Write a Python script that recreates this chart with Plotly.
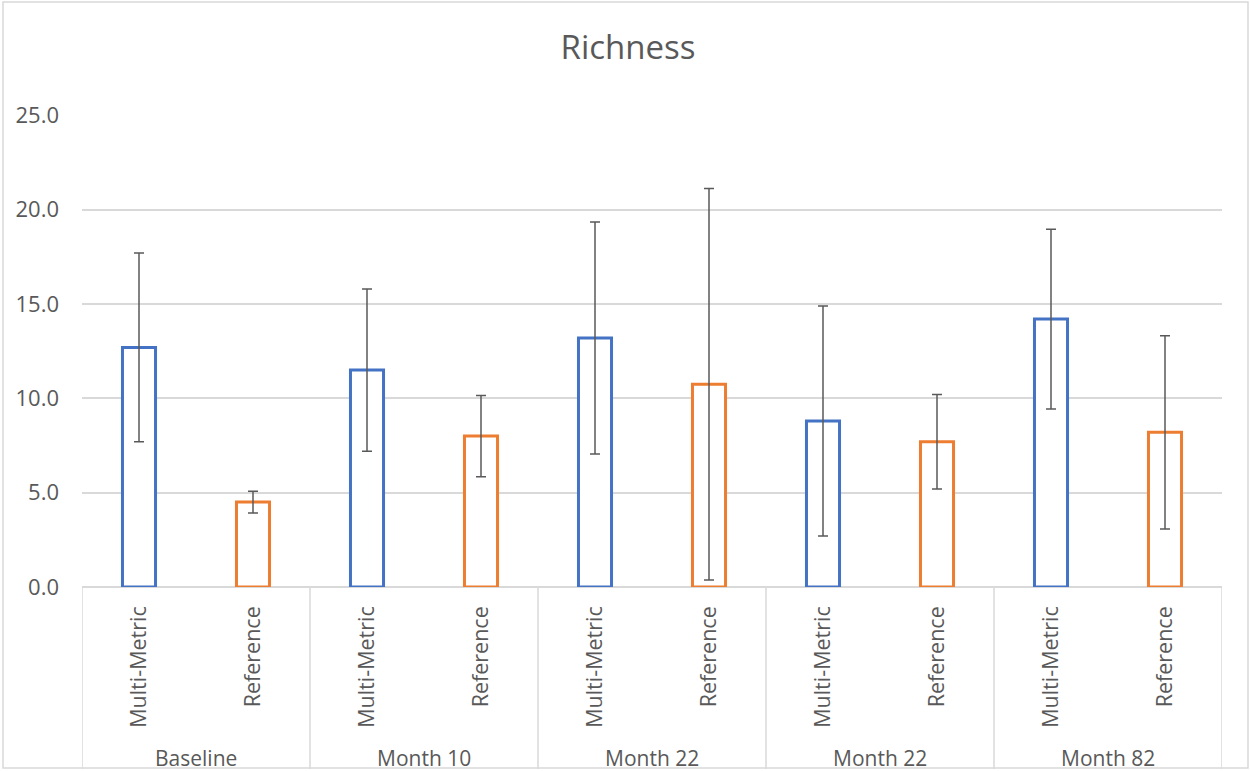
import plotly.graph_objects as go

groups = ["Baseline", "Month 10", "Month 22", "Month 22", "Month 82"]
series_names = ["Multi-Metric", "Reference"]
mm_vals = [12.7, 11.5, 13.2, 8.8, 14.2]
mm_err = [5.0, 4.3, 6.15, 6.1, 4.77]
ref_vals = [4.5, 8.0, 10.75, 7.7, 8.2]
ref_err = [0.58, 2.15, 10.38, 2.5, 5.12]
y_ticks = [0, 5, 10, 15, 20, 25]

BLUE = "#4472C4"
ORANGE = "#ED7D31"
GREY_TXT = "#595959"
GRID = "#D9D9D9"
FONT = "Open Sans"

n = len(groups)
x_mm = [2 * i for i in range(n)]
x_ref = [2 * i + 1 for i in range(n)]

fig = go.Figure()
fig.add_trace(go.Bar(
    x=x_mm, y=mm_vals, width=0.29, name=series_names[0],
    marker=dict(color="white", line=dict(color=BLUE, width=3)),
    error_y=dict(type="data", array=mm_err, visible=True, color=GREY_TXT, thickness=1.5, width=5),
))
fig.add_trace(go.Bar(
    x=x_ref, y=ref_vals, width=0.29, name=series_names[1],
    marker=dict(color="white", line=dict(color=ORANGE, width=3)),
    error_y=dict(type="data", array=ref_err, visible=True, color=GREY_TXT, thickness=1.5, width=5),
))

tickvals = []
ticktext = []
for i in range(n):
    tickvals += [x_mm[i], x_ref[i]]
    ticktext += series_names

L, R, T, B = 82, 28, 115, 184
W, H = 1250, 771
pw, ph = W - L - R, H - T - B

def py(pix):
    return (H - B - pix) / ph

shapes = []
for i in range(n + 1):
    xv = 2 * i - 0.5
    shapes.append(dict(type="line", xref="x", yref="paper", x0=xv, x1=xv, y0=0, y1=py(769),
                       line=dict(color=GRID, width=1.5)))
shapes.append(dict(type="rect", xref="paper", yref="paper",
                   x0=(3 - L) / pw, x1=(1248 - L) / pw, y0=py(768), y1=py(2),
                   line=dict(color=GRID, width=1.5), fillcolor="rgba(0,0,0,0)"))

annotations = []
for i, g in enumerate(groups):
    annotations.append(dict(text=g, x=2 * i + 0.5, xref="x", y=py(758), yref="paper",
                            xanchor="center", yanchor="middle", showarrow=False,
                            font=dict(family=FONT, size=21, color=GREY_TXT)))

fig.update_layout(
    width=W, height=H,
    margin=dict(l=L, r=R, t=T, b=B, autoexpand=False),
    paper_bgcolor="white", plot_bgcolor="white",
    showlegend=False,
    barmode="overlay",
    title=dict(text="Richness", x=628 / W, xref="container", xanchor="center",
               y=1 - 47 / H, yref="container", yanchor="middle",
               font=dict(family=FONT, size=33, color=GREY_TXT)),
    xaxis=dict(range=[-0.5, 2 * n - 0.5], tickmode="array", tickvals=tickvals, ticktext=ticktext,
               tickangle=-90, showgrid=False, zeroline=False, showline=False, ticks="",
               ticklabelstandoff=14,
               tickfont=dict(family=FONT, size=21.5, color=GREY_TXT)),
    yaxis=dict(range=[0, 25.02], tickmode="array", tickvals=y_ticks, tickformat=".1f",
               showgrid=True, gridcolor=GRID, gridwidth=1.5,
               zeroline=True, zerolinecolor=GRID, zerolinewidth=1.5,
               showline=False, ticks="", ticklabelstandoff=22,
               tickfont=dict(family=FONT, size=22, color=GREY_TXT)),
    shapes=shapes,
    annotations=annotations,
)

fig.write_html("out.html", config={"displayModeBar": False},
               post_script="document.body.style.margin='0';document.body.style.overflow='hidden';")
